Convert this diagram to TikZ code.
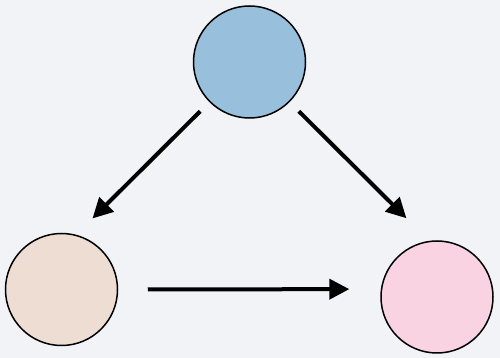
\documentclass[tikz,border=0pt]{standalone}
\usepackage{tikz}
\usetikzlibrary{calc, positioning, arrows.meta}
\definecolor{bgcol}{RGB}{242,243,247}
\definecolor{topcol}{RGB}{152,192,221}
\definecolor{leftcol}{RGB}{237,221,210}
\definecolor{rightcol}{RGB}{250,211,226}

\begin{document}
\begin{tikzpicture}[
    x=1pt, y=1pt,
    ball/.style={draw, circle, line width=1.5pt, minimum size=112pt, inner sep=0pt},
    arr/.style={-{Triangle[length=20pt, width=20pt]}, line width=4pt},
]

% ── Background ───────────────────────────────────────────────
\fill[bgcol] (0,0) rectangle (500,358);
\useasboundingbox (0,0) rectangle (500,358);

% ── Circles ──────────────────────────────────────────────────
\node[ball, fill=topcol] (top) at (249.5,296) {};
\node[ball, fill=leftcol] (left) at (61.5,68.5) {};
\node[ball, fill=rightcol] (right) at (437,61) {};

% ── Arrows ───────────────────────────────────────────────────
\draw[arr, shorten <=13pt, shorten >=23pt] (top.225) -- (left.75);
\draw[arr, shorten <=13pt, shorten >=32pt] (top.315) -- (right.98);
\draw[arr, shorten <=29.5pt, shorten >=31.5pt] (left.east) -- (right.172);

\end{tikzpicture}
\end{document}
